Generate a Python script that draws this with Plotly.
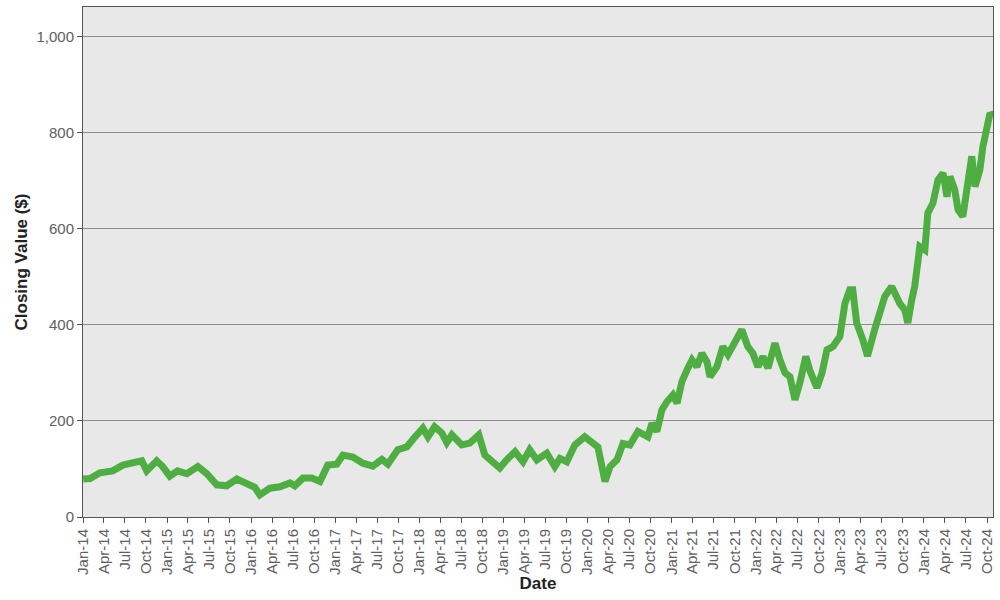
import plotly.graph_objects as go

dates = [
    "2014-01-02", "2014-02-01", "2014-03-15", "2014-05-10", "2014-06-23", "2014-08-06",
    "2014-09-13", "2014-10-05", "2014-11-17", "2014-12-13", "2015-01-13", "2015-02-16",
    "2015-03-28", "2015-05-15", "2015-06-23", "2015-08-05", "2015-09-17", "2015-10-31",
    "2015-12-13", "2016-01-17", "2016-02-08", "2016-03-23", "2016-05-05", "2016-06-18",
    "2016-07-09", "2016-08-13", "2016-09-21", "2016-10-26", "2016-11-29", "2017-01-07",
    "2017-02-03", "2017-03-18", "2017-04-30", "2017-06-13", "2017-07-22", "2017-08-17",
    "2017-09-29", "2017-10-21", "2017-11-07", "2017-12-04", "2018-01-16", "2018-02-07",
    "2018-03-08", "2018-04-08", "2018-04-30", "2018-05-22", "2018-07-04", "2018-08-08",
    "2018-09-16", "2018-10-12", "2018-11-03", "2018-12-16", "2019-01-15", "2019-02-20",
    "2019-03-27", "2019-04-25", "2019-05-26", "2019-07-08", "2019-08-12", "2019-09-03",
    "2019-10-03", "2019-11-07", "2019-12-20", "2020-01-19", "2020-02-15", "2020-03-17",
    "2020-04-08", "2020-05-08", "2020-06-03", "2020-07-03", "2020-08-07", "2020-09-19",
    "2020-10-07", "2020-10-28", "2020-11-19", "2020-12-11", "2021-01-06", "2021-01-24",
    "2021-02-14", "2021-03-08", "2021-03-30", "2021-04-20", "2021-05-12", "2021-06-03",
    "2021-06-16", "2021-07-16", "2021-08-11", "2021-09-02", "2021-10-01", "2021-11-01",
    "2021-11-27", "2021-12-19", "2022-01-10", "2022-02-01", "2022-02-23", "2022-03-25",
    "2022-04-16", "2022-05-08", "2022-05-29", "2022-06-20", "2022-07-11", "2022-08-06",
    "2022-08-23", "2022-09-23", "2022-10-15", "2022-11-06", "2022-12-02", "2023-01-01",
    "2023-01-23", "2023-02-13", "2023-02-26", "2023-03-15", "2023-04-10", "2023-05-01",
    "2023-06-01", "2023-06-23", "2023-07-15", "2023-08-14", "2023-08-27", "2023-09-18",
    "2023-10-10", "2023-10-23", "2023-11-09", "2023-11-22", "2023-12-14", "2024-01-05",
    "2024-01-18", "2024-02-09", "2024-03-02", "2024-03-24", "2024-04-10", "2024-04-23",
    "2024-05-14", "2024-05-28", "2024-06-18", "2024-07-10", "2024-07-27", "2024-08-10",
    "2024-08-31", "2024-09-13", "2024-10-01", "2024-10-14", "2024-10-25",
]
closing_values = [
    79, 80, 92, 96, 108, 113,
    117, 96, 117, 105, 85, 96,
    90, 105, 90, 67, 65, 79,
    71, 62, 46, 60, 63, 71,
    65, 81, 81, 74, 108, 110,
    129, 125, 112, 106, 120, 110,
    140, 143, 146, 162, 185, 167,
    188, 175, 155, 171, 150, 154,
    171, 129, 119, 102, 119, 136,
    115, 140, 119, 133, 105, 122,
    115, 150, 167, 157, 146, 74,
    105, 119, 153, 150, 178, 167,
    195, 178, 223, 240, 254, 237,
    282, 306, 327, 313, 341, 323,
    292, 313, 355, 338, 362, 390,
    355, 341, 313, 334, 310, 362,
    327, 300, 292, 244, 279, 334,
    306, 269, 299, 348, 355, 376,
    445, 473, 473, 404, 370, 335,
    390, 425, 459, 480, 466, 445,
    431, 404, 452, 480, 563, 556,
    633, 653, 702, 716, 667, 709,
    681, 640, 626, 709, 751, 688,
    723, 771, 806, 841, 835,
]

fig = go.Figure()
fig.add_trace(go.Scatter(
    x=dates, y=closing_values, mode="lines",
    line=dict(color="#4FAE42", width=7),
    showlegend=False,
))

tick_font = dict(family="Liberation Sans, Arial, sans-serif", size=15, color="#606060")
title_font = dict(family="Liberation Sans, Arial, sans-serif", size=17, color="#222222")

fig.update_layout(
    width=1000, height=600,
    margin=dict(l=83, r=7, t=7, b=83),
    paper_bgcolor="white",
    plot_bgcolor="#E8E8E8",
    xaxis=dict(
        type="date", automargin=False,
        range=["2014-01-01", "2024-10-27"],
        tick0="2014-01-01", dtick="M3", tickformat="%b-%y",
        tickangle=-90, ticks="outside", ticklen=5, tickcolor="#555555",
        showgrid=False, showline=True, linecolor="#555555", linewidth=1, mirror=True,
        tickfont=tick_font,
        title=dict(text="<b>Date</b>", font=title_font, standoff=2),
    ),
    yaxis=dict(
        automargin=False,
        range=[0, 1062], dtick=200, tickformat=",d",
        ticks="outside", ticklen=5, tickcolor="#555555",
        showgrid=True, gridcolor="#8C8C8C", gridwidth=1, zeroline=False,
        showline=True, linecolor="#555555", linewidth=1, mirror=True,
        tickfont=tick_font,
        title=dict(text="<b>Closing Value ($)</b>", font=title_font, standoff=4),
    ),
)

fig.write_html(
    "out.html",
    config={"displayModeBar": False},
    post_script="document.body.style.margin='0';",
)
